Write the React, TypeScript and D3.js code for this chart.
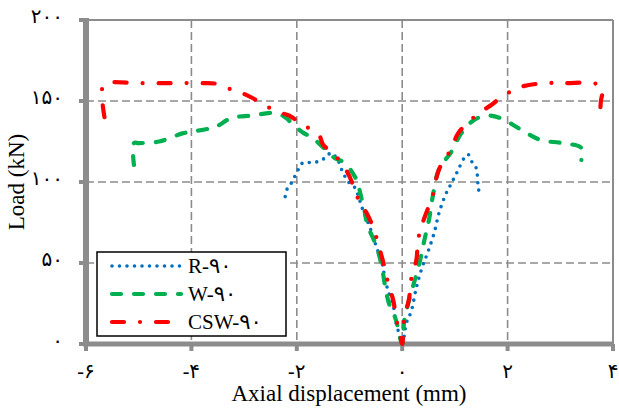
import * as d3 from "d3";

// tick labels (Persian digits)
const xTicks = [-6, -4, -2, 0, 2, 4];
const xTickLabels = ["-۶", "-۴", "-۲", "۰", "۲", "۴"];
const yTicks = [0, 50, 100, 150, 200];
const yTickLabels = ["۰", "۵۰", "۱۰۰", "۱۵۰", "۲۰۰"];

// R-90
const rX = [-2.22, -2.18, -2.11, -2.03, -1.95, -1.88, -1.71, -1.56, -1.44, -1.35, -1.23, -1.14, -1.02, -0.91, -0.85, -0.76, -0.59, -0.49, -0.4, -0.34, -0.27, -0.17, -0.13, -0.08, 0, 0.08, 0.17, 0.27, 0.38, 0.49, 0.61, 0.7, 0.82, 0.93, 1.04, 1.18, 1.25, 1.33, 1.4, 1.44, 1.46];
const rY = [91, 96, 99, 104, 109, 112, 112, 113, 115.5, 118, 114, 107, 100, 97, 93, 84, 70, 60, 52, 43, 33, 24, 15, 8.6, 0, 13, 20, 35, 47.5, 57, 69, 81, 92, 99, 106, 115, 117, 112, 109, 98, 93];

// W-90
const wX = [-5.09, -5.09, -4.99, -4.61, -4.17, -4.0, -3.66, -3.51, -3.24, -2.85, -2.39, -2.2, -2.09, -1.86, -1.73, -1.52, -1.29, -1.1, -0.91, -0.85, -0.78, -0.72, -0.66, -0.51, -0.4, -0.32, -0.25, -0.13, 0, 0.04, 0.13, 0.32, 0.42, 0.51, 0.59, 0.7, 0.93, 1.12, 1.35, 1.59, 1.86, 2.22, 2.62, 3.04, 3.4, 3.4];
const wY = [110.5, 124, 124, 125, 130, 131, 133, 134.5, 139.5, 141, 142.6, 139.5, 136, 130, 128, 122, 115, 112, 104, 100, 91, 83, 73.5, 62, 50, 35, 25, 16, 0, 15, 27, 49, 64, 77, 93, 108, 118.5, 130, 138, 141, 139.5, 133, 126, 124, 121, 113.6];

// CSW-90
const cX = [-5.65, -5.69, -5.6, -5.0, -4.4, -3.8, -3.5, -3.24, -3.05, -2.85, -2.62, -2.33, -2.14, -2.05, -1.84, -1.58, -1.5, -1.29, -1.04, -0.8, -0.66, -0.53, -0.44, -0.34, -0.27, -0.17, -0.11, -0.04, 0, 0.04, 0.13, 0.17, 0.27, 0.3, 0.38, 0.59, 0.66, 0.76, 0.85, 0.95, 1.06, 1.29, 1.48, 1.71, 1.86, 2.07, 2.28, 2.69, 3.09, 3.64, 3.8, 3.77, 3.75];
const cY = [140, 158, 161, 161, 161, 161, 160.5, 157, 155, 152, 147.5, 143, 141, 139, 134.5, 129, 123, 117, 106, 87, 80, 70, 60, 48, 38, 27, 15, 6, 0, 16, 28, 40, 52, 64, 74, 93, 104, 112, 116, 122, 130, 138, 143, 148, 152, 156, 159, 161, 161, 161, 158, 150, 139];

const series = [
  { name: "R-۹۰", xs: rX, ys: rY, color: "#0070c0", width: 3.6, dash: "0 7.5" },
  { name: "W-۹۰", xs: wX, ys: wY, color: "#00b050", width: 4.2, dash: "9 13" },
  { name: "CSW-۹۰", xs: cX, ys: cY, color: "#ff0000", width: 4.2, dash: "12 16 0 16" },
];

const W = 619;
const H = 408;
const left = 86;
const right = 613;
const top = 20;
const bottom = 344;
const axisGray = "#8c8c8c";
const serif = "'Liberation Serif', 'Times New Roman', 'DejaVu Sans', serif";

export default function App() {
  const x = d3.scaleLinear().domain([-6, 4]).range([left, right]);
  const y = d3.scaleLinear().domain([0, 200]).range([bottom, top]);

  const line = d3
    .line<[number, number]>()
    .x((d) => x(d[0]))
    .y((d) => y(d[1]))
    .curve(d3.curveCatmullRom.alpha(0.5));

  return (
    <svg width={W} height={H} style={{ position: "absolute", left: 0, top: 0, background: "#fff" }}>
      {/* grid */}
      {yTicks.slice(1, -1).map((t) => (
        <line key={"gy" + t} x1={left} x2={right} y1={y(t)} y2={y(t)}
          stroke={axisGray} strokeWidth={1.6} strokeDasharray="8 4" />
      ))}
      {xTicks.slice(1, -1).map((t) => (
        <line key={"gx" + t} x1={x(t)} x2={x(t)} y1={top} y2={bottom}
          stroke={axisGray} strokeWidth={1.6} strokeDasharray="8 4" />
      ))}
      {/* top and right border */}
      <line x1={left} x2={right} y1={top} y2={top} stroke={axisGray} strokeWidth={2} />
      <line x1={right} x2={right} y1={top} y2={bottom} stroke={axisGray} strokeWidth={2} />

      {/* axes */}
      <line x1={left} x2={left} y1={top - 2} y2={bottom + 2} stroke={axisGray} strokeWidth={6} />
      <line x1={left - 3} x2={right + 1} y1={bottom} y2={bottom} stroke={axisGray} strokeWidth={5} />
      {yTicks.map((t) => (
        <line key={"ty" + t} x1={left - 7} x2={left} y1={y(t)} y2={y(t)} stroke={axisGray} strokeWidth={4} />
      ))}
      {xTicks.map((t) => (
        <line key={"tx" + t} x1={x(t)} x2={x(t)} y1={bottom} y2={bottom + 7} stroke={axisGray} strokeWidth={4} />
      ))}

      {/* curves */}
      {series.map((s) => (
        <path key={s.name}
          d={line(s.xs.map((v, i) => [v, s.ys[i]] as [number, number])) || ""}
          fill="none" stroke={s.color} strokeWidth={s.width}
          strokeDasharray={s.dash} strokeLinecap="round" strokeLinejoin="round" />
      ))}

      {/* tick labels */}
      {yTicks.map((t, i) => (
        <text key={"ly" + t} x={63} y={y(t) + 3} textAnchor="end"
          fontFamily={serif} fontSize={20} fill="#000">{yTickLabels[i]}</text>
      ))}
      {xTicks.map((t, i) => (
        <text key={"lx" + t} x={x(t)} y={378} textAnchor="middle"
          fontFamily={serif} fontSize={20} fill="#000" direction="ltr">{xTickLabels[i]}</text>
      ))}

      {/* axis titles */}
      <text x={349} y={401} textAnchor="middle" fontFamily={serif} fontSize={23} fill="#000">
        Axial displacement (mm)
      </text>
      <text transform={`translate(24,182) rotate(-90)`} textAnchor="middle"
        fontFamily={serif} fontSize={23} fill="#000">Load (kN)</text>

      {/* legend */}
      <rect x={97} y={252} width={189} height={84} fill="#fff" stroke="#000" strokeWidth={1.5} />
      {series.map((s, i) => {
        const ly = 266 + i * 28;
        return (
          <g key={"lg" + s.name}>
            <line x1={112} x2={181} y1={ly} y2={ly} stroke={s.color} strokeWidth={s.width}
              strokeDasharray={s.dash} strokeLinecap="round" />
            <text x={188} y={ly} dy="0.35em" fontFamily={serif} fontSize={21} fill="#000" direction="ltr">
              {s.name}
            </text>
          </g>
        );
      })}
    </svg>
  );
}
